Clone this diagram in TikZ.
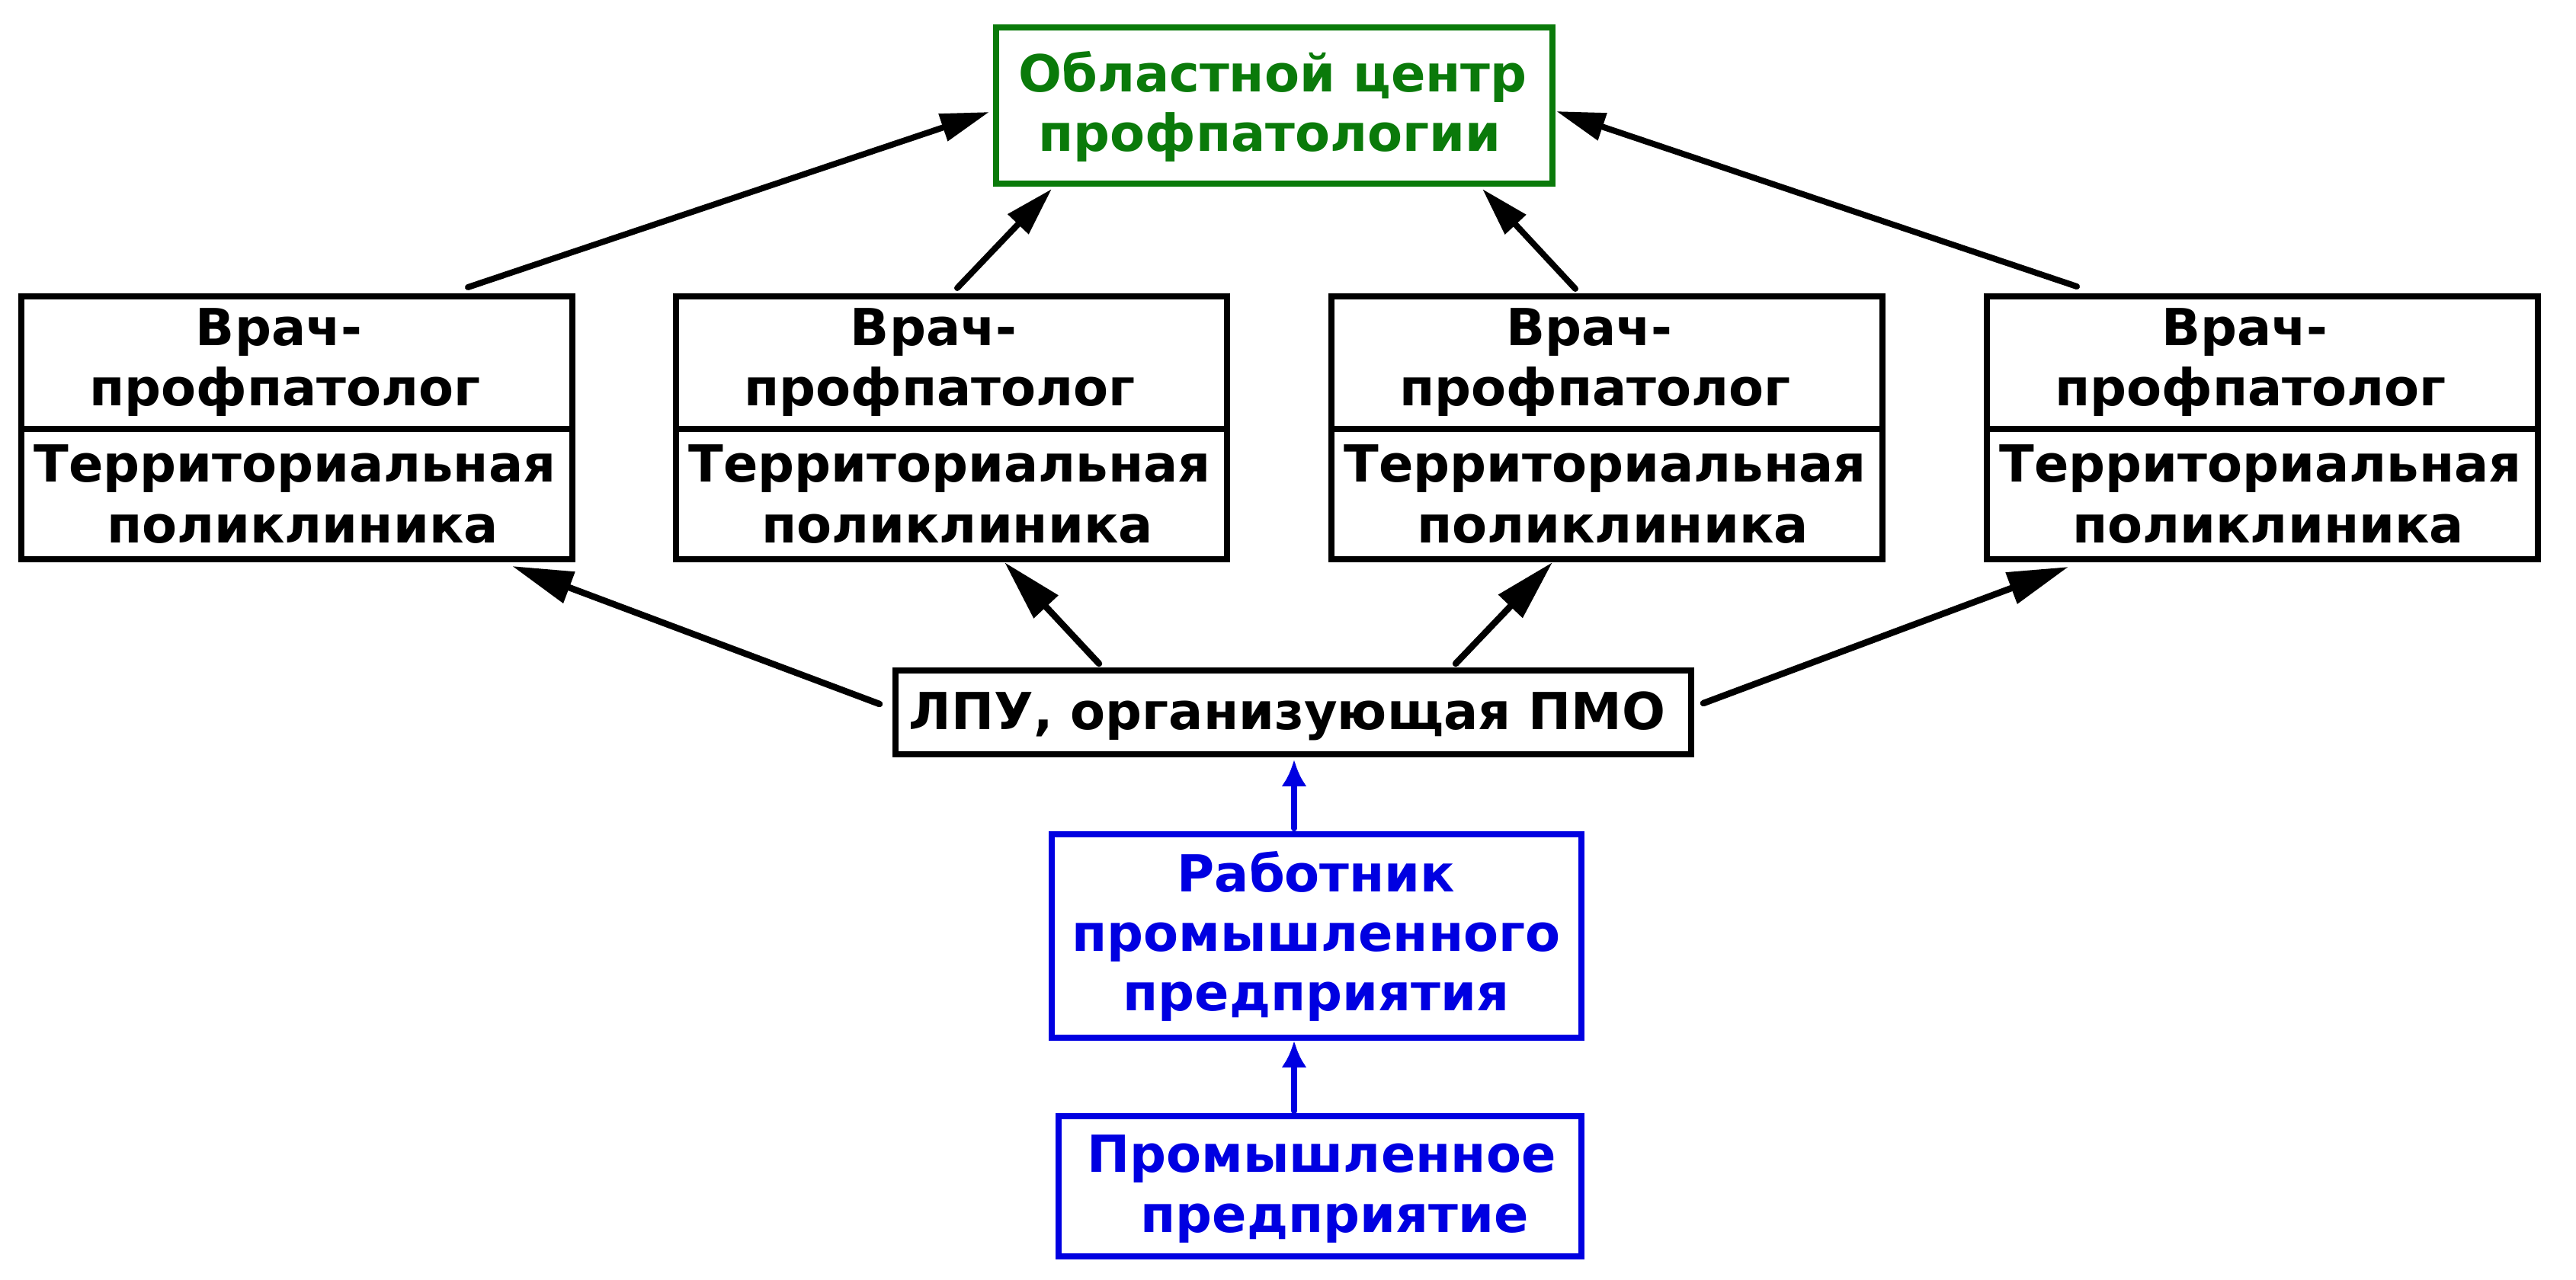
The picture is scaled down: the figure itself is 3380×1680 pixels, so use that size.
\documentclass[tikz,border=0pt]{standalone}
\usepackage{fontspec}
\setmainfont{DejaVu Sans}
\usetikzlibrary{arrows.meta}
\definecolor{cgreen}{RGB}{10,122,10}
\definecolor{cblue}{RGB}{0,0,225}
\begin{document}
\begin{tikzpicture}[x=1pt,y=-1pt,
  box/.style={draw, line width=8pt, rectangle, inner sep=0pt, outer sep=0pt},
  txt/.style={anchor=base, inner sep=0pt, font=\bfseries\fontsize{67pt}{79pt}\selectfont},
  arrtop/.style={line width=8pt, line cap=round, -{Triangle[length=64pt,width=36pt]}},
  arrbot/.style={line width=8.5pt, line cap=round, -{Triangle[length=80pt,width=42pt]}},
  arrblue/.style={draw=cblue, line width=8.5pt, line cap=round, -{Latex[length=35pt,width=33pt]}}]
\useasboundingbox (0,0) rectangle (3380,1680);
% top centre
\node[box, draw=cgreen, minimum width=730pt, minimum height=205pt] (top) at (1671.5,139) {};
\node[txt, text=cgreen] (top1) at (1670,121) {Областной центр};
\node[txt, text=cgreen] (top2) at (1666,199) {профпатологии};
% doctor / polyclinic boxes
\foreach \i/\x in {1/389,2/1248,3/2108,4/2968}{
  \node[box, minimum width=723pt, minimum height=174.5pt] (d\i) at (\x,475.75) {};
  \node[box, minimum width=723pt, minimum height=170.5pt] (p\i) at (\x,648.25) {};
  \node[txt] (d\i a) at (\x-23,453) {Врач-};
  \node[txt] (d\i b) at (\x-15,532) {профпатолог};
  \node[txt] (p\i a) at (\x-2,632) {Территориальная};
  \node[txt] (p\i b) at (\x+8,712) {поликлиника};
}
% LPU
\node[box, minimum width=1044pt, minimum height=110pt] (lpu) at (1696.5,934.5) {};
\node[txt] (lput) at (1689,957) {ЛПУ, организующая ПМО};
% worker
\node[box, draw=cblue, minimum width=695pt, minimum height=267pt] (wrk) at (1727,1228) {};
\node[txt, text=cblue] (wrk1) at (1727,1170) {Работник};
\node[txt, text=cblue] (wrk2) at (1727,1248) {промышленного};
\node[txt, text=cblue] (wrk3) at (1727,1326) {предприятия};
% enterprise
\node[box, draw=cblue, minimum width=686pt, minimum height=184pt] (ent) at (1731.5,1556.5) {};
\node[txt, text=cblue] (ent1) at (1734,1538) {Промышленное};
\node[txt, text=cblue] (ent2) at (1751,1617) {предприятие};
% arrows to top
\draw[arrtop] ([shift={(225,-11.5)}]d1.north) -- ([shift={(-8.5,8)}]top.west);
\draw[arrtop] ([shift={(8,-10.5)}]d2.north) -- ([shift={(-291.5,6.5)}]top.south);
\draw[arrtop] ([shift={(-41,-9.5)}]d3.north) -- ([shift={(273.5,6.5)}]top.south);
\draw[arrtop] ([shift={(-243,-12.5)}]d4.north) -- ([shift={(5.5,7)}]top.east);
% arrows from LPU
\draw[arrbot] ([shift={(-20.5,-10.5)}]lpu.west) -- ([shift={(283,9.5)}]p1.south);
\draw[arrbot] ([shift={(-254.5,-8.5)}]lpu.north) -- ([shift={(70,4.5)}]p2.south);
\draw[arrbot] ([shift={(213.5,-8.5)}]lpu.north) -- ([shift={(-71,4.5)}]p3.south);
\draw[arrbot] ([shift={(16.5,-11.5)}]lpu.east) -- ([shift={(-254,10.5)}]p4.south);
% blue arrows
\draw[arrblue] ([shift={(-29,-7.5)}]wrk.north) -- ([shift={(1.5,7.5)}]lpu.south);
\draw[arrblue] ([shift={(-33.5,-6.5)}]ent.north) -- ([shift={(-29,4.5)}]wrk.south);
\end{tikzpicture}
\end{document}
